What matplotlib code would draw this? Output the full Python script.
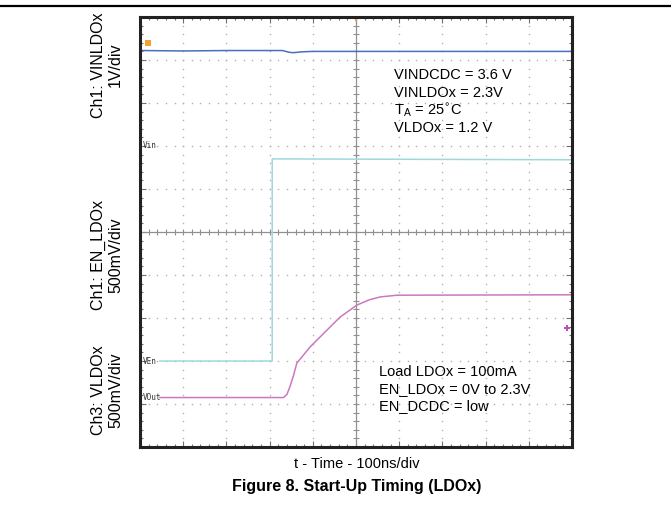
import numpy as np
import matplotlib
matplotlib.use("Agg")
import matplotlib.pyplot as plt
from matplotlib.ticker import MultipleLocator

# scope traces, in screen divisions (10 x 10 grid)
vinTime = [0.05, 1.0, 2.0, 3.3, 3.45, 3.55, 3.75, 4.0, 10.0]
vinLevel = [9.22, 9.21, 9.22, 9.22, 9.18, 9.17, 9.19, 9.2, 9.2]

enTime = [0.46, 3.06, 3.06, 10.0]
enLevel = [2.0, 2.0, 6.7, 6.68]

voutTime = [0.46, 3.32, 3.40, 3.47, 3.55, 3.63, 3.94, 4.10, 4.33, 4.63, 5.02, 5.30, 5.56, 5.95, 10.0]
voutLevel = [1.15, 1.15, 1.22, 1.40, 1.65, 1.95, 2.33, 2.49, 2.72, 3.02, 3.30, 3.42, 3.49, 3.53, 3.54]

markerNames = ["Vin", "VEn", "VOut"]
markerLevels = [7.0, 2.0, 1.15]

channelLabels = ["Ch1: VINLDOx\n1V/div", "Ch1: EN_LDOx\n500mV/div", "Ch3: VLDOx\n500mV/div"]
channelLabelY = [65, 255, 390]  # pixel rows of label centres

notesTop = ["VINDCDC = 3.6 V", "VINLDOx = 2.3V", r"T$_\mathregular{A}$ = 25$^{\circ}$C", "VLDOx = 1.2 V"]
notesBottom = ["Load LDOx = 100mA", "EN_LDOx = 0V to 2.3V", "EN_DCDC = low"]

W, H = 671, 512
plt.rcParams["font.family"] = ["Liberation Sans", "DejaVu Sans"]

figure = plt.figure(figsize=(W / 100, H / 100), dpi=100)
axis = figure.add_axes([140 / W, (H - 447) / H, 432 / W, 430 / H])
axis.set_xlim(0, 10)
axis.set_ylim(0, 10)

# dotted graticule
dots = np.arange(0, 10.01, 0.2)
for i in range(1, 10):
    if i == 5:
        continue
    axis.plot(np.full_like(dots, i), dots, ls="none", marker="s", ms=1.0, color="#b0b0b0", mew=0)
    axis.plot(dots, np.full_like(dots, i), ls="none", marker="s", ms=1.0, color="#b0b0b0", mew=0)

# centre cross with minor ticks
axis.axhline(5, color="#909090", lw=0.9)
axis.axvline(5, color="#909090", lw=0.9)
axis.plot(dots, np.full_like(dots, 5), ls="none", marker="|", ms=4, color="#909090", mew=0.8)
axis.plot(np.full_like(dots, 5), dots, ls="none", marker="_", ms=4, color="#909090", mew=0.8)

# traces
axis.plot(vinTime, vinLevel, color="#4a6ec0", lw=1.1)
axis.plot(enTime, enLevel, color="#9fd8dc", lw=1.1)
axis.plot(voutTime, voutLevel, color="#cc77c0", lw=1.1)

for name, level in zip(markerNames, markerLevels):
    axis.text(0.06, level, name, fontsize=5.5, color="#333333", va="center", ha="left",
              family="DejaVu Sans Mono")

# trigger markers
axis.plot(0.18, 9.4, marker="s", ms=5, color="#f5a030", mew=0)
axis.plot(5, 9.95, marker="v", ms=5, color="#f5a030", mew=0, clip_on=False)
axis.plot(9.88, 2.77, marker="P", ms=5, color="#c050b0", mew=0)

# border with inward ticks
for s in axis.spines.values():
    s.set_linewidth(2.2)
    s.set_color("#222222")
axis.xaxis.set_major_locator(MultipleLocator(1))
axis.yaxis.set_major_locator(MultipleLocator(1))
axis.xaxis.set_minor_locator(MultipleLocator(0.2))
axis.yaxis.set_minor_locator(MultipleLocator(0.2))
axis.tick_params(which="both", direction="in", top=True, right=True,
                 labelbottom=False, labelleft=False, color="#707070")
axis.tick_params(which="major", length=4, width=0.8)
axis.tick_params(which="minor", length=2.5, width=0.8)

# notes
for k, line in enumerate(notesTop):
    figure.text(394 / W, 1 - (75 + 17.6 * k) / H, line, fontsize=10.5, va="center", ha="left")
for k, line in enumerate(notesBottom):
    figure.text(379 / W, 1 - (372 + 17.2 * k) / H, line, fontsize=10.5, va="center", ha="left")

for text, y in zip(channelLabels, channelLabelY):
    figure.text(107 / W, 1 - y / H, text, fontsize=11.5, rotation=90, va="center", ha="center",
                multialignment="center", linespacing=1.15)

figure.text(357 / W, 1 - 464 / H, "t - Time - 100ns/div", fontsize=10.5, ha="center", va="center")
figure.text(357 / W, 1 - 486 / H, "Figure 8. Start-Up Timing (LDOx)", fontsize=11.5,
            fontweight="bold", ha="center", va="center")

# rule across the top of the page
figure.add_artist(plt.Line2D([0, 1], [1 - 6 / H, 1 - 6 / H], color="black", lw=1.6,
                             transform=figure.transFigure))

figure.savefig("out.png", dpi=100)
